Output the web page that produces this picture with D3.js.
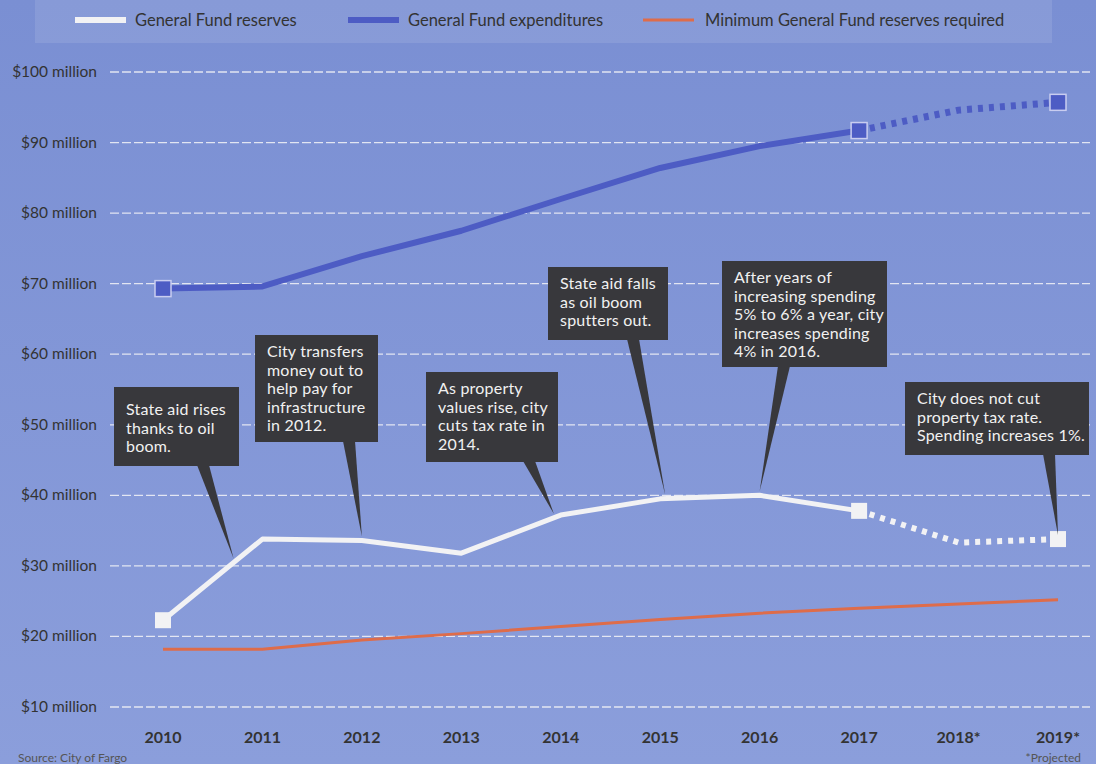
<!DOCTYPE html>
<html>
<head>
<meta charset="utf-8">
<script src="https://cdn.jsdelivr.net/npm/d3@7"></script>
<style>
  html, body { margin: 0; padding: 0; background: #8196d6; }
  svg { display: block; font-family: Lato, "Open Sans", sans-serif; }
</style>
</head>
<body>
<svg id="chart" width="1096" height="764"></svg>
<script>
let years = [2010, 2011, 2012, 2013, 2014, 2015, 2016, 2017, 2018, 2019]
let yearLabels = ['2010', '2011', '2012', '2013', '2014', '2015', '2016', '2017', '2018*', '2019*']
let reserves = [22.3, 33.8, 33.6, 31.8, 37.2, 39.5, 40.0, 37.8, 33.3, 33.8]
let expenditures = [69.3, 69.6, 73.9, 77.5, 82.0, 86.4, 89.5, 91.7, 94.6, 95.7]
let minimum = [18.2, 18.2, 19.5, 20.4, 21.4, 22.4, 23.3, 24.0, 24.6, 25.2]
let yTicks = [10, 20, 30, 40, 50, 60, 70, 80, 90, 100]
let lastActual = 2017

// callouts: tip sits on the reserves line at `at`, box is layout only
let notes = [
  { at: 2010.71, lines: ['State aid rises', 'thanks to oil', 'boom.'], box: [114, 387, 125, 79], base: 197, pad: 28 },
  { at: 2012, lines: ['City transfers', 'money out to', 'help pay for', 'infrastructure', 'in 2012.'], box: [255, 335, 123, 107], base: 343 },
  { at: 2013.93, lines: ['As property', 'values rise, city', 'cuts tax rate in', '2014.'], box: [426, 372, 132, 90], base: 523 },
  { at: 2015.05, lines: ['State aid falls', 'as oil boom', 'sputters out.'], box: [548, 267, 120, 73], base: 627 },
  { at: 2016.0, lines: ['After years of', 'increasing spending', '5% to 6% a year, city', 'increases spending', '4% in 2016.'], box: [722, 261, 165, 106], base: 778 },
  { at: 2019, lines: ['City does not cut', 'property tax rate.', 'Spending increases 1%.'], box: [905, 382, 184, 73], base: 1043 }
]

let svg = d3.select('#chart')
let x = d3.scaleLinear().domain([2010, 2019]).range([163, 1058])
let y = d3.scaleLinear().domain([10, 100]).range([707, 72])

// paper-ish background
let defs = svg.append('defs')
let grad = defs.append('linearGradient').attr('id', 'bg').attr('x1', 0).attr('y1', 0).attr('x2', 0).attr('y2', 1)
grad.append('stop').attr('offset', '0%').attr('stop-color', '#7a8fd3')
grad.append('stop').attr('offset', '100%').attr('stop-color', '#8b9edb')
svg.append('rect').attr('width', 1096).attr('height', 764).attr('fill', 'url(#bg)')

// legend band
svg.append('rect').attr('x', 35).attr('y', 0).attr('width', 1017).attr('height', 43)
  .attr('fill', '#ffffff').attr('opacity', 0.1)
let legend = [
  { label: 'General Fund reserves', color: '#f2f2f4', width: 6, x: 75 },
  { label: 'General Fund expenditures', color: '#4d5cc4', width: 6, x: 348 },
  { label: 'Minimum General Fund reserves required', color: '#de6c4a', width: 3, x: 643 }
]
let lg = svg.append('g').selectAll('g').data(legend).enter().append('g')
lg.append('line')
  .attr('x1', d => d.x).attr('x2', d => d.x + 51)
  .attr('y1', 20).attr('y2', 20)
  .attr('stroke', d => d.color).attr('stroke-width', d => d.width)
lg.append('text')
  .attr('x', d => d.x + (d.width === 3 ? 62 : 60)).attr('y', 26)
  .attr('font-size', 16.5).attr('fill', '#333')
  .text(d => d.label)

// gridlines + y labels
svg.append('g').selectAll('line').data(yTicks).enter().append('line')
  .attr('x1', 110).attr('x2', 1090)
  .attr('y1', d => y(d)).attr('y2', d => y(d))
  .attr('stroke', '#f4f4f8').attr('stroke-width', 1.3)
  .attr('stroke-dasharray', '9,3').attr('opacity', 0.85)
svg.append('g').selectAll('text').data(yTicks).enter().append('text')
  .attr('x', 97).attr('y', d => y(d) + 5)
  .attr('text-anchor', 'end').attr('font-size', 15.5).attr('fill', '#333')
  .text(d => '$' + d + ' million')

// year labels
svg.append('g').selectAll('text').data(years).enter().append('text')
  .attr('x', d => x(d)).attr('y', 743)
  .attr('text-anchor', 'middle').attr('font-size', 16).attr('font-weight', 'bold').attr('fill', '#333')
  .text((d, i) => yearLabels[i])

let line = d3.line().x(d => x(d[0])).y(d => y(d[1]))
let pairs = vals => years.map((yr, i) => [yr, vals[i]])

function series(vals, color, width, markers, outline) {
  let pts = pairs(vals)
  let g = svg.append('g')
  g.append('path').attr('d', line(markers ? pts.filter(p => p[0] <= lastActual) : pts))
    .attr('fill', 'none').attr('stroke', color).attr('stroke-width', width)
    .attr('stroke-linejoin', 'round')
  if (markers) {
    g.append('path').attr('d', line(pts.filter(p => p[0] >= lastActual)))
      .attr('fill', 'none').attr('stroke', color).attr('stroke-width', width + 1)
      .attr('stroke-dasharray', '5,6')
    g.selectAll('rect').data(pts.filter(p => p[0] === 2010 || p[0] === 2017 || p[0] === 2019))
      .enter().append('rect')
      .attr('x', d => x(d[0]) - 8).attr('y', d => y(d[1]) - 8)
      .attr('width', 16).attr('height', 16)
      .attr('fill', color)
      .attr('stroke', outline || 'none').attr('stroke-width', 1.5)
  }
}

series(minimum, '#de6c4a', 3, false)
series(expenditures, '#4d5cc4', 6, true, '#c9cdf0')
series(reserves, '#f2f2f4', 5, true)

// callouts
let resAt = d3.scaleLinear().domain(years).range(reserves)
let ng = svg.append('g').selectAll('g').data(notes).enter().append('g')
ng.append('path')
  .attr('d', d => {
    let tx = x(d.at), ty = y(resAt(d.at)) - 4
    let by = d.box[1] + d.box[3] - 1
    return `M${d.base},${by}L${d.base + 12},${by}L${tx},${ty}Z`
  })
  .attr('fill', '#38383c')
ng.append('rect')
  .attr('x', d => d.box[0]).attr('y', d => d.box[1])
  .attr('width', d => d.box[2]).attr('height', d => d.box[3])
  .attr('fill', '#38383c')
ng.each(function(d) {
  let t = d3.select(this).append('text').attr('font-size', 16).attr('fill', '#f1f1f1')
    .attr('letter-spacing', 0.2)
  d.lines.forEach((ln, i) => {
    t.append('tspan').attr('x', d.box[0] + 12).attr('y', d.box[1] + (d.pad || 22) + i * 18.5).text(ln)
  })
})

// footer
svg.append('text').attr('x', 18).attr('y', 762).attr('font-size', 12).attr('fill', '#555')
  .text('Source: City of Fargo')
svg.append('text').attr('x', 1081).attr('y', 762).attr('font-size', 12).attr('fill', '#555')
  .attr('text-anchor', 'end').text('*Projected')
</script>
</body>
</html>
